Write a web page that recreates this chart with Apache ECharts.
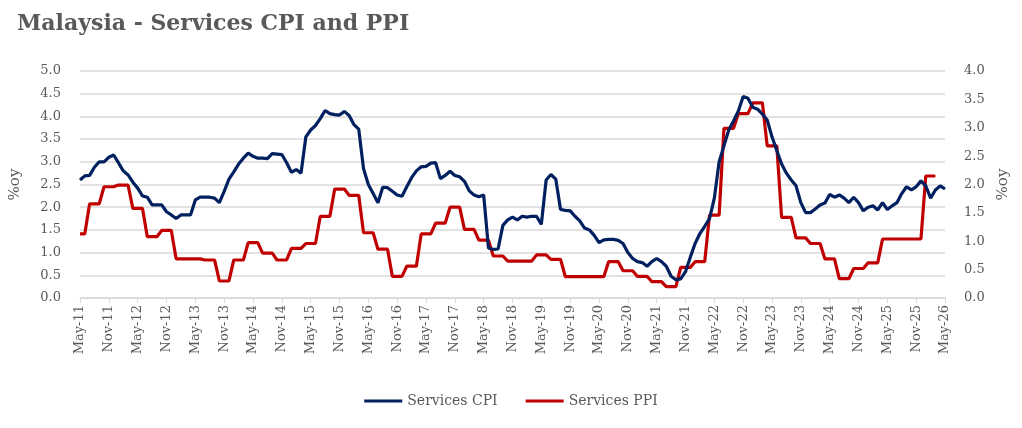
<!DOCTYPE html>
<html>
<head>
<meta charset="utf-8">
<script src="https://cdn.jsdelivr.net/npm/echarts@6/dist/echarts.min.js"></script>
<style>
html,body{margin:0;padding:0;background:#fff;}
#chart{width:1022px;height:428px;}
</style>
</head>
<body>
<div id="chart"></div>
<script>
// Monthly categories May-11 .. May-26
var monthNames = ['Jan','Feb','Mar','Apr','May','Jun','Jul','Aug','Sep','Oct','Nov','Dec'];
var startYear = 2011, startMonth = 4, monthCount = 181;
var categories = [];
for (var i = 0; i < monthCount; i++) {
  var mi = (startMonth + i) % 12;
  var yr = startYear + Math.floor((startMonth + i) / 12);
  categories.push(monthNames[mi] + '-' + String(yr).slice(2));
}

// Services CPI, %oy (left axis), May-11 onwards
var servicesCPI = [
  2.60,2.69,2.70,2.88,3.00,3.00,3.10,3.15,
  2.98,2.80,2.71,2.55,2.42,2.25,2.22,2.05,2.05,2.05,1.90,1.83,
  1.75,1.83,1.83,1.83,2.16,2.22,2.22,2.22,2.20,2.10,2.35,2.62,
  2.78,2.95,3.08,3.19,3.12,3.08,3.08,3.07,3.18,3.17,3.16,2.98,
  2.77,2.83,2.75,3.55,3.70,3.80,3.95,4.13,4.06,4.04,4.03,4.11,
  4.02,3.82,3.72,2.85,2.50,2.30,2.10,2.44,2.43,2.35,2.27,2.24,
  2.45,2.65,2.80,2.89,2.90,2.97,2.98,2.63,2.70,2.79,2.70,2.67,
  2.57,2.36,2.27,2.23,2.27,1.10,1.07,1.08,1.60,1.72,1.78,1.72,
  1.80,1.78,1.80,1.80,1.62,2.60,2.72,2.62,1.95,1.93,1.92,1.80,
  1.70,1.54,1.50,1.38,1.22,1.28,1.29,1.29,1.27,1.20,1.00,0.87,
  0.80,0.78,0.70,0.80,0.87,0.80,0.70,0.48,0.40,0.42,0.58,0.90,
  1.20,1.42,1.58,1.75,2.20,3.00,3.35,3.70,3.90,4.12,4.44,4.40,
  4.20,4.16,4.05,3.92,3.55,3.25,2.95,2.75,2.60,2.47,2.10,1.88,
  1.88,1.96,2.05,2.09,2.28,2.22,2.27,2.20,2.10,2.22,2.10,1.92,
  2.00,2.03,1.94,2.10,1.95,2.03,2.10,2.30,2.45,2.38,2.45,2.58,
  2.47,2.20,2.38,2.47,2.40
];

// Services PPI, %oy (right axis), quarterly values shown per month, May-11 onwards
var servicesPPI = [
  1.13,1.13,1.66,1.66,1.66,1.96,1.96,1.96,
  1.99,1.99,1.99,1.58,1.58,1.58,1.08,1.08,1.08,1.19,1.19,1.19,
  0.69,0.69,0.69,0.69,0.69,0.69,0.67,0.67,0.67,0.30,0.30,0.30,
  0.67,0.67,0.67,0.975,0.975,0.975,0.79,0.79,0.79,0.67,0.67,0.67,
  0.875,0.875,0.875,0.96,0.96,0.96,1.44,1.44,1.44,1.92,1.92,1.92,
  1.81,1.81,1.81,1.15,1.15,1.15,0.86,0.86,0.86,0.38,0.38,0.38,
  0.56,0.56,0.56,1.13,1.13,1.13,1.32,1.32,1.32,1.60,1.60,1.60,
  1.21,1.21,1.21,1.02,1.02,1.02,0.74,0.74,0.74,0.65,0.65,0.65,
  0.65,0.65,0.65,0.76,0.76,0.76,0.68,0.68,0.68,0.375,0.375,0.375,
  0.375,0.375,0.375,0.375,0.375,0.375,0.64,0.64,0.64,0.48,0.48,0.48,
  0.38,0.38,0.38,0.29,0.29,0.29,0.20,0.20,0.20,0.54,0.54,0.54,
  0.64,0.64,0.64,1.46,1.46,1.46,2.99,2.99,2.99,3.25,3.25,3.25,
  3.44,3.44,3.44,2.68,2.68,2.68,1.42,1.42,1.42,1.06,1.06,1.06,
  0.96,0.96,0.96,0.69,0.69,0.69,0.34,0.34,0.34,0.52,0.52,0.52,
  0.62,0.62,0.62,1.04,1.04,1.04,1.04,1.04,1.04,1.04,1.04,1.04,
  2.15,2.15,2.15
];

var leftTicks = {min: 0, max: 5, interval: 0.5};
var rightTicks = {min: 0, max: 4, interval: 0.5};

var FONT = 'DejaVu Serif';
var GREY = '#595959';

var chart = echarts.init(document.getElementById('chart'), null, {renderer: 'canvas'});
chart.setOption({
  animation: false,
  backgroundColor: '#ffffff',
  title: {
    text: 'Malaysia - Services CPI and PPI',
    left: 12, top: 8,
    textStyle: {fontFamily: FONT, fontWeight: 'bold', fontSize: 22, color: GREY}
  },
  legend: {
    bottom: 15, left: 'center',
    itemWidth: 38, itemHeight: 3, itemGap: 28,
    icon: 'rect',
    textStyle: {fontFamily: FONT, fontSize: 14, color: GREY},
    data: ['Services CPI', 'Services PPI']
  },
  grid: {left: 80, right: 77, top: 71, bottom: 130, containLabel: false},
  xAxis: {
    type: 'category',
    data: categories,
    boundaryGap: false,
    axisLine: {lineStyle: {color: '#d9d9d9', width: 1.5}},
    axisTick: {show: true, interval: 5, length: 5, lineStyle: {color: '#d9d9d9'}},
    axisLabel: {interval: 5, rotate: 90, margin: 7, fontFamily: FONT, fontSize: 13, color: GREY},
    splitLine: {show: false}
  },
  yAxis: [
    {
      type: 'value', position: 'left',
      min: leftTicks.min, max: leftTicks.max, interval: leftTicks.interval,
      name: '%oy', nameLocation: 'middle', nameGap: 57, nameRotate: 90,
      nameTextStyle: {fontFamily: FONT, fontSize: 15, color: GREY},
      axisLine: {show: false}, axisTick: {show: false},
      axisLabel: {margin: 19, fontFamily: FONT, fontSize: 13, color: GREY,
        formatter: function (v) { return v.toFixed(1); }},
      splitLine: {show: true, lineStyle: {color: '#d9d9d9', width: 1.5}}
    },
    {
      type: 'value', position: 'right',
      min: rightTicks.min, max: rightTicks.max, interval: rightTicks.interval,
      name: '%oy', nameLocation: 'middle', nameGap: 50, nameRotate: 90,
      nameTextStyle: {fontFamily: FONT, fontSize: 15, color: GREY},
      axisLine: {show: false}, axisTick: {show: false},
      axisLabel: {margin: 19, fontFamily: FONT, fontSize: 13, color: GREY,
        formatter: function (v) { return v.toFixed(1); }},
      splitLine: {show: false}
    }
  ],
  series: [
    {
      name: 'Services CPI', type: 'line', yAxisIndex: 0,
      data: servicesCPI, showSymbol: false, symbol: 'none',
      lineStyle: {color: '#002060', width: 3.2},
      itemStyle: {color: '#002060'},
      z: 3
    },
    {
      name: 'Services PPI', type: 'line', yAxisIndex: 1,
      data: servicesPPI, showSymbol: false, symbol: 'none',
      lineStyle: {color: '#C00000', width: 3.2},
      itemStyle: {color: '#C00000'},
      z: 2
    }
  ]
});
</script>
</body>
</html>
